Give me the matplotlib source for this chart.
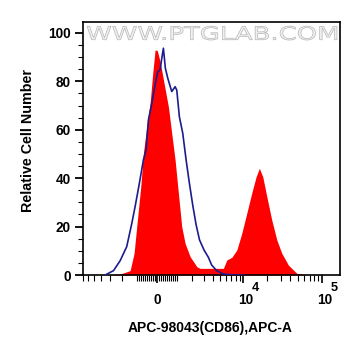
import numpy as np
import matplotlib
matplotlib.use("Agg")
import matplotlib.pyplot as plt
from matplotlib.textpath import TextPath
from matplotlib.patches import PathPatch
from matplotlib.font_manager import FontProperties
from matplotlib.transforms import Affine2D

plt.rcParams['font.family'] = ['Liberation Sans', 'DejaVu Sans']

# sample (red, filled) histogram: fluorescence value, relative count
red_x = [-3370, -2130, -1430, -1184, -995, -811, -673, -502, -337, -208, -96, 10,
         144, 337, 550, 724, 903, 1087, 1284, 1494, 1836, 2365, 2640, 4060, 5550,
         6160, 7160, 8300, 9620, 11150, 12900, 14680, 16150, 17830, 20060, 23200,
         26880, 31070, 37700, 48100, 64500]
red_y = [0, 0.4, 1.8, 9.0, 22.7, 36.5, 50.3, 61.3, 70.9, 83.3, 93.0, 92.7,
         88.2, 79.2, 69.6, 58.5, 47.5, 33.8, 20.0, 13.1, 7.6, 3.4, 2.75, 2.75, 2.75,
         6.2, 7.3, 10.3, 17.2, 25.5, 33.8, 40.6, 44.1, 40.6, 32.4, 22.7,
         14.5, 9.0, 4.1, 0.7, 0]

# isotype control (blue line)
blue_x = [-3550, -2690, -2130, -1650, -1323, -1126, -885, -673, -536, -420, -255,
          -96, 34, 144, 226, 304, 401, 520, 724, 903, 995, 1144, 1348, 1562, 1786,
          2030, 2300, 2590, 3020, 3480, 3860, 4530, 5550, 7500, 10090]
blue_y = [0, 1.8, 5.9, 11.7, 21.3, 28.2, 37.9, 47.5, 51.7, 64.0, 70.9,
          78.5, 84.0, 84.7, 89.5, 93.7, 85.4, 81.3, 75.8, 77.8, 76.4, 65.4, 58.5, 47.5, 37.9,
          28.9, 20.7, 14.5, 10.3, 7.3, 4.1, 1.8, 0.4, 0, 0]

major_x = [0, 1e4, 1e5]
major_base = ['0', '10', '10']
major_exp = ['', '4', '5']
minor_x = ([-m * 100 for m in range(1, 10)] + [-m * 1000 for m in range(1, 8)] +
           [m * 100 for m in range(1, 10)] + [m * 1000 for m in range(1, 10)] +
           [m * 10000 for m in range(2, 10)])

W = 1642.0


def fwd(v):
    return np.arcsinh(np.asarray(v, dtype=float) / W) / np.log(10)


def inv(u):
    return W * np.sinh(np.asarray(u, dtype=float) * np.log(10))


fig = plt.figure(figsize=(3.61, 3.56), dpi=100)
ax = fig.add_axes([0.230, 0.2275, 0.712, 0.7105])
ax.set_xscale('function', functions=(fwd, inv))

ax.fill_between(red_x, red_y, 0, color='#ff0000', linewidth=0, zorder=2)
ax.plot(blue_x, blue_y, color='#1c1c8e', linewidth=1.2, zorder=3)

ax.set_xlim(-7010, 1.70e5)
ax.set_ylim(0, 104.5)

ax.set_xticks(major_x)
ax.set_xticklabels([''] * len(major_x))
ax.set_xticks(minor_x, minor=True)
ax.set_yticks([0, 20, 40, 60, 80, 100])
ax.set_yticks(np.arange(0, 101, 5), minor=True)

ax.tick_params(axis='x', which='major', length=6, width=1.2)
ax.tick_params(axis='x', which='minor', length=4, width=0.8)
ax.tick_params(axis='y', which='major', length=6, width=1.3, pad=3)
ax.tick_params(axis='y', which='minor', length=3.5, width=0.8)
for lab in ax.get_yticklabels():
    lab.set_fontweight('bold')
    lab.set_fontsize(9.8)

# x tick labels with full-size exponents
for xv, b, e in zip(major_x, major_base, major_exp):
    dx = 0 if not e else 3
    ax.annotate(b, xy=(xv, 0), xycoords=('data', 'axes fraction'),
                xytext=(dx, -25), textcoords='offset pixels', ha='center',
                va='center', fontsize=9.8, fontweight='bold',
                annotation_clip=False)
    if e:
        ax.annotate(e, xy=(xv, 0), xycoords=('data', 'axes fraction'),
                    xytext=(dx + 5.5, -13), textcoords='offset pixels', ha='left',
                    va='center', fontsize=9.2, fontweight='bold',
                    annotation_clip=False)

for s in ax.spines.values():
    s.set_linewidth(1.2)

fig.text(0.0767, 0.604, 'Relative Cell Number', rotation=90, ha='center', va='center',
         fontsize=10.3, fontweight='bold')
fig.text(0.582, 0.0787, 'APC-98043(CD86),APC-A', ha='center', va='center',
         fontsize=10, fontweight='bold')

# watermark
tp = TextPath((0, 0), 'WWW.PTGLAB.COM', size=1, prop=FontProperties(family='DejaVu Sans'))
ext = tp.get_extents()
x0, x1, y0, y1 = 0.0156, 0.988, 0.929, 0.984
tr = (Affine2D().translate(-ext.x0, -ext.y0)
      .scale((x1 - x0) / ext.width, (y1 - y0) / ext.height)
      .translate(x0, y0) + ax.transAxes)
ax.add_patch(PathPatch(tp, transform=tr, facecolor='#f0f0f0', edgecolor='#b4b4b4',
                       linewidth=0.5, zorder=4, clip_on=False))

fig.savefig('out.png', dpi=100)
